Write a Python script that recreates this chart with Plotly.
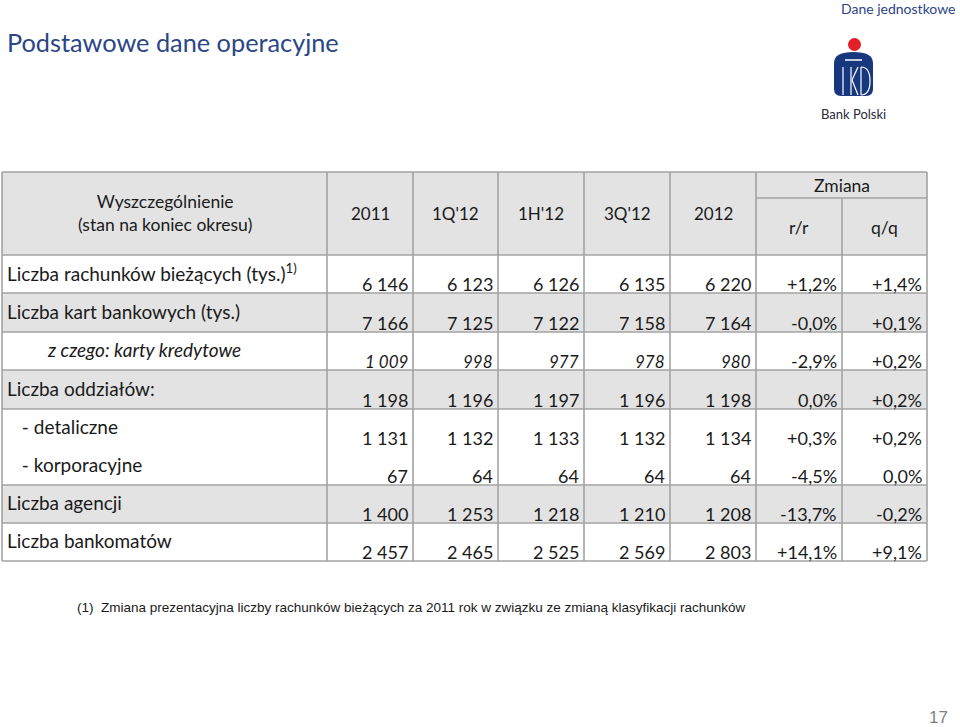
import math
import plotly.graph_objects as go

# ---------------- data ----------------
periods = ["2011", "1Q'12", "1H'12", "3Q'12", "2012"]
change_labels = ["r/r", "q/q"]

row_labels = [
    "Liczba rachunków bieżących (tys.)<sup>1)</sup>",
    "Liczba kart bankowych (tys.)",
    "<i>z czego: karty kredytowe</i>",
    "Liczba oddziałów:",
    " - detaliczne",
    " - korporacyjne",
    "Liczba agencji",
    "Liczba bankomatów",
]
accounts = [6146, 6123, 6126, 6135, 6220]
accounts_chg = [1.2, 1.4]
cards = [7166, 7125, 7122, 7158, 7164]
cards_chg = [-0.0, 0.1]
credit_cards = [1009, 998, 977, 978, 980]
credit_cards_chg = [-2.9, 0.2]
branches = [1198, 1196, 1197, 1196, 1198]
branches_chg = [0.0, 0.2]
retail = [1131, 1132, 1133, 1132, 1134]
retail_chg = [0.3, 0.2]
corporate = [67, 64, 64, 64, 64]
corporate_chg = [-4.5, 0.0]
agencies = [1400, 1253, 1218, 1210, 1208]
agencies_chg = [-13.7, -0.2]
atms = [2457, 2465, 2525, 2569, 2803]
atms_chg = [14.1, 9.1]

values = [accounts, cards, credit_cards, branches, retail, corporate, agencies, atms]
changes = [accounts_chg, cards_chg, credit_cards_chg, branches_chg, retail_chg,
           corporate_chg, agencies_chg, atms_chg]

title = "Podstawowe dane operacyjne"
subtitle = "Dane jednostkowe"
footnote = "(1)  Zmiana prezentacyjna liczby rachunków bieżących za 2011 rok w związku ze zmianą klasyfikacji rachunków"
page_no = "17"

# ---------------- layout geometry ----------------
col_edges = [2, 327, 413, 498, 584, 670, 756, 842, 927]
header_top, zmiana_split, header_bottom = 172, 198, 255
row_edges = [255, 293, 332, 370, 409, 447, 485, 523, 561]
gray_rows = {1, 3, 6}
no_line_above = {5}
italic_rows = {2}
label_indent = {2: 40, 4: 10, 5: 10}

GRID = "#a3a3a3"
FILL = "#e3e3e3"
TXT = "#1a1a1a"
NAVY = "#2b4586"
LABEL_FONT = "Lato"
NUM_FONT = "Lato"


def fmt_num(v):
    return f"{v:,}".replace(",", " ")


def fmt_pct(v):
    if v == 0 and math.copysign(1, v) > 0:
        s = f"{v:.1f}"
    else:
        s = f"{v:+.1f}"
    return s.replace(".", ",") + "%"


shapes = []
ann = []

# header background
shapes.append(dict(type="rect", xref="x", yref="y", x0=col_edges[0], x1=col_edges[-1],
                   y0=header_top, y1=header_bottom, fillcolor=FILL, line_width=0, layer="below"))
# row backgrounds
for i in range(len(row_labels)):
    if i in gray_rows:
        shapes.append(dict(type="rect", xref="x", yref="y", x0=col_edges[0], x1=col_edges[-1],
                           y0=row_edges[i], y1=row_edges[i + 1], fillcolor=FILL, line_width=0,
                           layer="below"))

# horizontal grid lines
hlines = [header_top] + [row_edges[i] for i in range(len(row_edges)) if i not in no_line_above]
for y in hlines:
    shapes.append(dict(type="line", xref="x", yref="y", x0=col_edges[0], x1=col_edges[-1],
                       y0=y, y1=y, line=dict(color=GRID, width=1.6)))
shapes.append(dict(type="line", xref="x", yref="y", x0=col_edges[6], x1=col_edges[8],
                   y0=zmiana_split, y1=zmiana_split, line=dict(color=GRID, width=1.6)))
# vertical grid lines
for j, x in enumerate(col_edges):
    y0 = zmiana_split if j == 7 else header_top
    shapes.append(dict(type="line", xref="x", yref="y", x0=x, x1=x, y0=y0, y1=row_edges[-1],
                       line=dict(color=GRID, width=1.6)))

# header texts
ann.append(dict(x=(col_edges[0] + col_edges[1]) / 2, y=(header_top + header_bottom) / 2 - 1,
                text="Wyszczególnienie<br>(stan na koniec okresu)",
                font=dict(family=LABEL_FONT, size=17.5, color=TXT)))
for k, p in enumerate(periods):
    ann.append(dict(x=(col_edges[k + 1] + col_edges[k + 2]) / 2, y=213, text=p,
                    font=dict(family=NUM_FONT, size=17, color=TXT)))
ann.append(dict(x=(col_edges[6] + col_edges[8]) / 2, y=185, text="Zmiana",
                font=dict(family=LABEL_FONT, size=17.5, color=TXT)))
for k, c in enumerate(change_labels):
    ann.append(dict(x=(col_edges[6 + k] + col_edges[7 + k]) / 2, y=227, text=c,
                    font=dict(family=LABEL_FONT, size=17.5, color=TXT)))

# body
for i, lab in enumerate(row_labels):
    top, bot = row_edges[i], row_edges[i + 1]
    ital = i in italic_rows
    ann.append(dict(x=col_edges[0] + 3 + label_indent.get(i, 0), y=bot - 21, text=lab,
                    xanchor="left", font=dict(family=LABEL_FONT, size=19, color=TXT)))
    nums = [fmt_num(v) for v in values[i]] + [fmt_pct(v) for v in changes[i]]
    for k, s in enumerate(nums):
        if ital and k < len(periods):
            s = f"<i>{s}</i>"
        ann.append(dict(x=col_edges[k + 2] - 3, y=bot - 9, text=s, xanchor="right",
                        font=dict(family=NUM_FONT, size=17 if (ital and k < len(periods)) else 18,
                                  color=TXT)))

for a in ann:
    a.setdefault("xanchor", "center")
    a.setdefault("yanchor", "middle")
    a.update(xref="x", yref="y", showarrow=False)

# slide texts
ann.append(dict(x=5, y=42, xref="x", yref="y", text=title, showarrow=False, xanchor="left",
                yanchor="middle", font=dict(family=LABEL_FONT, size=25.3, color=NAVY)))
ann.append(dict(x=957, y=8, xref="x", yref="y", text=subtitle, showarrow=False, xanchor="right",
                yanchor="middle", font=dict(family=LABEL_FONT, size=14, color=NAVY)))
ann.append(dict(x=75, y=607, xref="x", yref="y", text=footnote, showarrow=False, xanchor="left",
                yanchor="middle", font=dict(family="Liberation Sans", size=13.5, color=TXT)))
ann.append(dict(x=950, y=717, xref="x", yref="y", text=page_no, showarrow=False, xanchor="right",
                yanchor="middle", font=dict(family="Liberation Sans", size=17, color="#7f7f7f")))
ann.append(dict(x=853, y=114, xref="x", yref="y", text="Bank Polski", showarrow=False,
                xanchor="center", yanchor="middle",
                font=dict(family=LABEL_FONT, size=13, color="#2a2a3a")))

# PKO logo (simplified)
LOGO = "#17387f"
shapes.append(dict(type="circle", xref="x", yref="y", x0=848, x1=861, y0=38, y1=51,
                   fillcolor="#e3202a", line_width=0))
shapes.append(dict(type="path", xref="x", yref="y",
                   path="M 834 63 Q 834 52 853.5 52 Q 873 52 873 63 L 873 89 Q 873 96 866 96 "
                        "L 841 96 Q 834 96 834 89 Z",
                   fillcolor=LOGO, line_width=0))
shapes.append(dict(type="line", xref="x", yref="y", x0=845, x1=862, y0=60, y1=60,
                   line=dict(color="white", width=1.5)))
for x0, y0, x1, y1 in [(843, 67, 843, 95), (851, 67, 851, 95), (852, 80, 858, 67),
                       (852, 80, 858, 95), (861, 67, 861, 95)]:
    shapes.append(dict(type="line", xref="x", yref="y", x0=x0, x1=x1, y0=y0, y1=y1,
                       line=dict(color="white", width=1.2)))
shapes.append(dict(type="path", xref="x", yref="y",
                   path="M 861 67 Q 870 67 870 81 Q 870 95 861 95",
                   line=dict(color="white", width=1.2)))

fig = go.Figure()
fig.update_layout(
    width=960, height=727, margin=dict(l=0, r=0, t=0, b=0),
    paper_bgcolor="white", plot_bgcolor="white",
    xaxis=dict(range=[0, 960], visible=False, fixedrange=True),
    yaxis=dict(range=[727, 0], visible=False, fixedrange=True),
    shapes=shapes, annotations=ann, showlegend=False,
)
fig.write_html("out.html", config={"displayModeBar": False},
               post_script="document.body.style.margin='0';document.body.style.overflow='hidden';")
